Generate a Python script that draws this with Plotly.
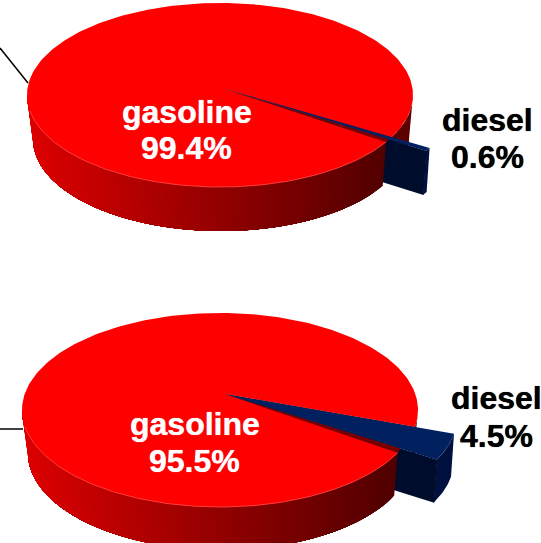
import numpy as np
import plotly.graph_objects as go

# --- data ---
categories = ["gasoline", "diesel"]
shares_top = [99.4, 0.6]
shares_bottom = [95.5, 4.5]

# --- drawing parameters ---
W, H = 541, 543
RED, NAVY_TOP, NAVY_RADIAL, NAVY_OUTER = "#fe0000", "#002060", "#000c2c", "#001140"
FONT = "Liberation Sans, Arial, sans-serif"

fig = go.Figure()


def poly(xs, ys, color):
    fig.add_trace(go.Scatter(
        x=list(xs), y=list(ys), mode="lines", fill="toself", fillcolor=color,
        line=dict(color=color, width=0), hoverinfo="skip", showlegend=False))


def wall_color(x, left, right):
    f = np.clip((x - left) / (right - left), 0, 1)
    r = int(222 - 142 * f)
    return f"rgb({r},0,0)"


def pie3d(shares, cx, cy, rx, ry, depth, apex, start, offset):
    sweep = shares[1] / sum(shares) * 360
    a0, a1 = start, start + sweep
    ex = lambda t: cx + rx * np.cos(np.radians(t))
    ey = lambda t: cy + ry * np.sin(np.radians(t))
    bx = lambda t: cx + 1 + (rx - 5) * np.cos(np.radians(t))
    by = lambda t: cy + ry * np.sin(np.radians(t)) + depth

    # red wall behind the wedge
    t = np.linspace(0, a0, 20)
    poly(np.r_[ex(t), bx(t[::-1])], np.r_[ey(t), by(t[::-1])], "#5c0000")

    # wedge walls
    ox, oy = offset
    t = np.linspace(a0, a1, 20)
    wx, wy = ex(t) + ox, ey(t) + oy
    poly(np.r_[wx, wx[::-1] - 3], np.r_[wy, wy[::-1] + depth], NAVY_OUTER)
    poly([apex[0], wx[-1] + 0.5, wx[-1] - 2.5, apex[0]],
         [apex[1], wy[-1], wy[-1] + depth, apex[1] + depth], NAVY_RADIAL)

    # red front wall: overlapping layers, shaded left to right
    for a in np.linspace(a1, 180, 130)[:-1]:
        t = np.linspace(a, 180, 60)
        poly(np.r_[ex(t), bx(t[::-1])], np.r_[ey(t), by(t[::-1])],
             wall_color(ex(a), cx - rx, cx + rx * 0.9))

    # red top with the notch
    poly([apex[0], ex(a0), ex(a1), apex[0]], [apex[1], ey(a0), ey(a1), apex[1]], "#7a0000")
    t = np.linspace(a1, a0 + 360, 300)
    poly(np.r_[apex[0], ex(t), apex[0]], np.r_[apex[1], ey(t), apex[1]], RED)
    # light rim along the front
    t = np.linspace(a1, 170, 120)
    fig.add_trace(go.Scatter(x=ex(t), y=ey(t), mode="lines",
                             line=dict(color="#ff3c3c", width=1), hoverinfo="skip", showlegend=False))
    # wedge top
    poly(np.r_[apex[0], wx, apex[0]], np.r_[apex[1], wy, apex[1]], NAVY_TOP)


pie3d(shares_top, cx=220, cy=95, rx=193, ry=92, depth=44, apex=(222, 88), start=28.5, offset=(40, 9))
pie3d(shares_bottom, cx=220, cy=410, rx=198, ry=97, depth=43, apex=(225, 394), start=10, offset=(39, 7))

# leader lines
for xs, ys in [([0, 28], [48, 83]), ([0, 23], [429, 429])]:
    fig.add_trace(go.Scatter(x=xs, y=ys, mode="lines", line=dict(color="black", width=1.5),
                             hoverinfo="skip", showlegend=False))


def label(x, y, text, color):
    fig.add_annotation(x=x, y=y, text=f"<b>{text}</b>", showarrow=False, xanchor="center", yanchor="middle",
                       font=dict(family=FONT, size=32, color=color, shadow=f"0 0 0.7px {color}"))


for (shares, gx, gy1, gy2, dx, dy1, dy2) in [
    (shares_top, 186.5, 112, 148, 487.5, 120, 157),
    (shares_bottom, 194.5, 424, 461, 496.5, 398, 436),
]:
    label(gx, gy1, categories[0], "white")
    label(gx, gy2, f"{shares[0]}%", "white")
    label(dx, dy1, categories[1], "black")
    label(dx, dy2, f"{shares[1]}%", "black")

fig.update_layout(
    width=W, height=H, autosize=False, margin=dict(l=0, r=0, t=0, b=0),
    paper_bgcolor="white", plot_bgcolor="white", showlegend=False,
    xaxis=dict(range=[0, W], visible=False, fixedrange=True),
    yaxis=dict(range=[H, 0], visible=False, fixedrange=True),
)
fig.write_html("out.html", config={"displayModeBar": False},
               post_script="document.body.style.margin='0';document.body.style.overflow='hidden';")
